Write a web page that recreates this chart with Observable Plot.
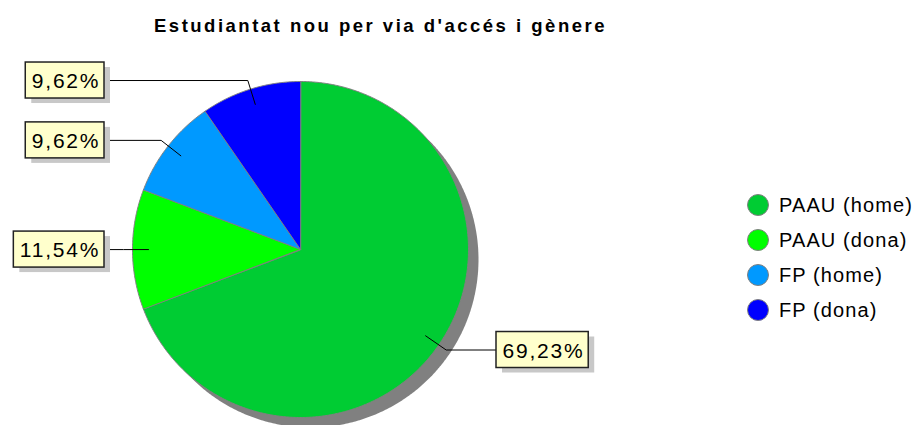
<!DOCTYPE html>
<html>
<head>
<meta charset="utf-8">
<script src="https://cdn.jsdelivr.net/npm/d3@7"></script>
<script src="https://cdn.jsdelivr.net/npm/@observablehq/plot@0.6"></script>
<style>
  body { margin: 0; background: #fff; }
  #wrap { position: relative; width: 923px; height: 425px; overflow: hidden; font-family: "Liberation Sans", Arial, sans-serif; }
  #title { position: absolute; left: 0; top: 17px; width: 761px; text-align: center; font-weight: bold; font-size: 18.5px; line-height: 1; letter-spacing: 2.5px; color: #000; white-space: nowrap; }
  .lg { position: absolute; left: 746px; height: 24px; display: flex; align-items: center; font-size: 20px; letter-spacing: 1.1px; color: #000; white-space: nowrap; }
  .lg svg { margin-right: 9px; }
  #chart { position: absolute; left: 0; top: 0; }
</style>
</head>
<body>
<div id="wrap">
  <div id="chart"></div>
  <div id="title">Estudiantat nou per via d'accés i gènere</div>
  <div id="legend"></div>
</div>
<script>
// ---- data ----
const categories = ["PAAU (home)", "PAAU (dona)", "FP (home)", "FP (dona)"];
const percentages = [69.23, 11.54, 9.62, 9.62];
const colors = ["#00cc33", "#00ff00", "#0099ff", "#0000ff"];

// ---- layout constants ----
const W = 923, H = 425;
const CX = 300, CY = 249, R = 168;
const SHADOW = 10;
const R_IN = 152, R_ELBOW = 177, BOX_GAP = 196;
const FONT = 21, LS = 1.8, PAD = 6, BOX_H = 36;

const fmt = v => v.toFixed(2).replace(".", ",") + "%";

const pie = d3.pie().sort(null).value(d => d.value).startAngle(0).endAngle(2 * Math.PI);
const rows = categories.map((c, i) => ({ key: c, value: percentages[i], color: colors[i] }));
const arcs = pie(rows);

const pt = (a, r, ox = 0, oy = 0) => ({ x: CX + ox + r * Math.sin(a), y: CY + oy - r * Math.cos(a) });

function arcPoints(a0, a1, r, withCenter) {
  const pts = withCenter ? [{ x: CX, y: CY }] : [];
  const n = Math.max(2, Math.ceil((a1 - a0) / (Math.PI / 360)));
  for (let k = 0; k <= n; k++) pts.push(pt(a0 + (a1 - a0) * k / n, r));
  return pts;
}

const shadowPts = d3.range(0, 721).map(k => pt(k * Math.PI / 360, R, SHADOW, SHADOW));

// text measurement
const ctx = document.createElement("canvas").getContext("2d");
ctx.font = `${FONT}px "Liberation Sans"`;
const textW = s => ctx.measureText(s).width + LS * (s.length - 1);

const labels = arcs.map(a => {
  const mid = (a.startAngle + a.endAngle) / 2;
  const p1 = pt(mid, R_IN), p2 = pt(mid, R_ELBOW);
  const right = Math.sin(mid) >= 0;
  const text = fmt(a.data.value);
  const w = textW(text) + 2 * PAD;
  const edge = right ? CX + BOX_GAP : CX - BOX_GAP;
  const x1 = right ? edge : edge - w, x2 = right ? edge + w : edge;
  return {
    text, y: p2.y, x1, x2, y1: p2.y - BOX_H / 2, y2: p2.y + BOX_H / 2,
    cx: (x1 + x2) / 2,
    line: [p1, p2, { x: edge, y: p2.y }]
  };
});

const marks = [
  Plot.line(shadowPts, { x: "x", y: "y", curve: "linear-closed", fill: "#808080", stroke: "none" }),
  ...arcs.map(a => Plot.line(arcPoints(a.startAngle, a.endAngle, R, true), {
    x: "x", y: "y", curve: "linear-closed", fill: a.data.color, stroke: "#808080", strokeWidth: 1
  })),
  ...labels.map(l => Plot.line(l.line, { x: "x", y: "y", stroke: "#000", strokeWidth: 1 })),
  Plot.rect(labels, { x1: "x1", x2: "x2", y1: "y1", y2: "y2", dx: 6, dy: 5, fill: "#c8c8c8" }),
  Plot.rect(labels, { x1: "x1", x2: "x2", y1: "y1", y2: "y2", fill: "#ffffcc", stroke: "#222", strokeWidth: 1.5 }),
  Plot.text(labels, { x: "cx", y: "y", text: "text", fontSize: FONT, fill: "#000", dx: LS / 2, dy: 1 })
];

const chart = Plot.plot({
  width: W, height: H, margin: 0,
  x: { domain: [0, W], range: [0, W], axis: null },
  y: { domain: [0, H], range: [0, H], axis: null },
  style: { fontFamily: '"Liberation Sans", Arial, sans-serif', letterSpacing: LS + "px", background: "transparent", overflow: "visible" },
  marks
});
document.getElementById("chart").appendChild(chart);

// legend
const legend = document.getElementById("legend");
categories.forEach((c, i) => {
  const row = document.createElement("div");
  row.className = "lg";
  row.style.top = (205 + 35 * i - 12) + "px";
  row.innerHTML = `<svg width="24" height="24"><circle cx="12" cy="12" r="10.5" fill="${colors[i]}" stroke="#808080" stroke-width="1"/></svg><span>${c}</span>`;
  legend.appendChild(row);
});
</script>
</body>
</html>
